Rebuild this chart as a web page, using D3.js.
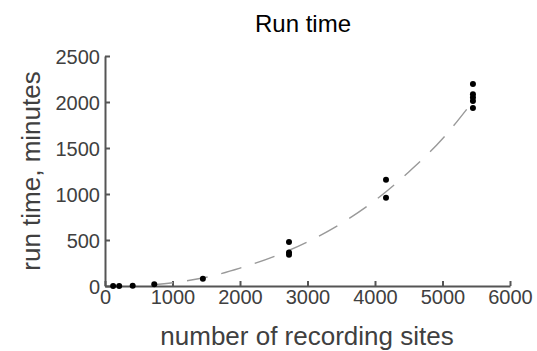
<!DOCTYPE html>
<html><head><meta charset="utf-8">
<script src="https://cdn.jsdelivr.net/npm/d3@7"></script>
<style>body{margin:0;background:#fff}svg{display:block}text{font-family:"Liberation Sans",Arial,sans-serif}</style>
</head><body>
<svg id="c" width="537" height="351"></svg>
<script>
const sitesX = [120, 210, 410, 730, 1450, 2726, 2726, 2726, 4163, 4163, 5451, 5451, 5451, 5451, 5451];
const runTimeY = [0, 0, 2, 18, 80, 478, 365, 340, 1155, 960, 2196, 2085, 2050, 2010, 1935];
const fitX = [700, 1000, 1500, 2000, 2500, 3000, 3500, 4000, 4500, 5000, 5400];
const fitY = [12, 35, 95, 195, 320, 480, 680, 930, 1240, 1600, 1960];
const xTicks = [0, 1000, 2000, 3000, 4000, 5000, 6000];
const yTicks = [0, 500, 1000, 1500, 2000, 2500];

const svg = d3.select("#c");
const x = d3.scaleLinear().domain([0, 6000]).range([105, 510]);
const y = d3.scaleLinear().domain([0, 2500]).range([286, 56]);
const axisColor = "#555", textColor = "#404040";

const xa = svg.append("g").attr("transform", "translate(0,286)")
  .call(d3.axisBottom(x).tickValues(xTicks).tickSize(-5).tickSizeOuter(0).tickPadding(0).tickFormat(d3.format("d")));
const ya = svg.append("g").attr("transform", "translate(105,0)")
  .call(d3.axisLeft(y).tickValues(yTicks).tickSize(-5).tickSizeOuter(0).tickPadding(0).tickFormat(d3.format("d")));
[xa, ya].forEach(g => {
  g.select(".domain").attr("stroke", axisColor).attr("stroke-width", 2);
  g.selectAll(".tick line").attr("stroke", axisColor).attr("stroke-width", 2);
  g.selectAll(".tick text").attr("fill", textColor).style("font-size", "20px");
});
xa.selectAll(".tick text").attr("y", 18).attr("dy", 0);
ya.selectAll(".tick text").attr("x", -5).attr("dy", "0.35em");

const line = d3.line().x((d, i) => x(fitX[i])).y(d => y(d)).curve(d3.curveMonotoneX);
svg.append("path").datum(fitY).attr("d", line)
  .attr("fill", "none").attr("stroke", "#999").attr("stroke-width", 1.4)
  .attr("stroke-dasharray", "21,14");

svg.append("g").selectAll("circle").data(runTimeY).join("circle")
  .attr("cx", (d, i) => x(sitesX[i])).attr("cy", d => y(d)).attr("r", 3).attr("fill", "#000");

svg.append("text").attr("x", 303).attr("y", 32).attr("text-anchor", "middle")
  .style("font-size", "24px").attr("fill", "#000").text("Run time");
svg.append("text").attr("x", 307).attr("y", 345).attr("text-anchor", "middle")
  .style("font-size", "26px").attr("fill", textColor).text("number of recording sites");
svg.append("text").attr("transform", "translate(40,171) rotate(-90)").attr("text-anchor", "middle")
  .style("font-size", "26px").attr("fill", textColor).text("run time, minutes");
</script>
</body></html>
